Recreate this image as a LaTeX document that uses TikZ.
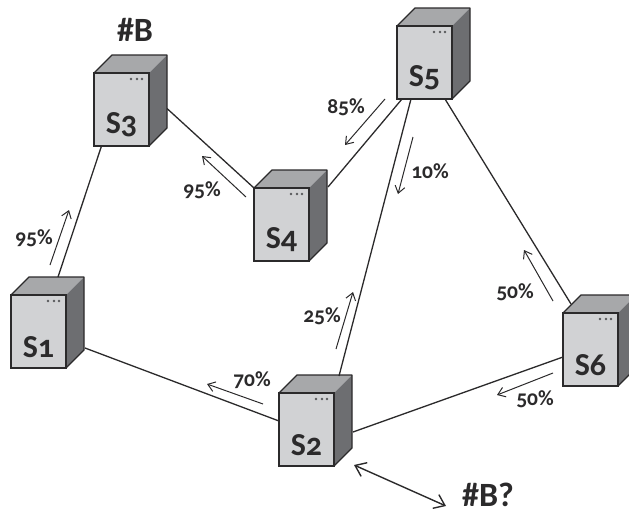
\documentclass[tikz,border=0pt]{standalone}
\usepackage{fontspec}
\setmainfont[Numbers=OldStyle]{Carlito}
\usetikzlibrary{arrows.meta}
\definecolor{servfront}{HTML}{D1D2D4}
\definecolor{servtop}{HTML}{A7A8AA}
\definecolor{servside}{HTML}{6D6E71}
\definecolor{servline}{HTML}{2B2A2B}
\definecolor{servdot}{HTML}{58595B}
\tikzset{
	server/.style={draw=servline, line width=1.2pt, fill=servfront, anchor=north west, inner sep=0pt, outer sep=0pt, minimum width=55pt, minimum height=73pt},
	servername/.style={font=\bfseries\fontsize{32}{32}\selectfont, text=servline, inner sep=0pt},
	source/.style={font=\bfseries\fontsize{34}{34}\selectfont, text=servline, inner sep=0pt},
	percent/.style={font=\bfseries\fontsize{21.5}{21.5}\selectfont, text=servline, inner sep=0pt},
	link/.style={draw=servline, line width=1.3pt},
	flow/.style={draw=servline, line width=1pt, -{Straight Barb[length=7pt,width=10pt]}},
	query/.style={draw=servline, line width=1.4pt, {Straight Barb[length=10pt,width=15pt]}-{Straight Barb[length=10pt,width=15pt]}}
}
\begin{document}
\begin{tikzpicture}[x=1pt,y=-1pt]
	\clip (0,0) rectangle (629,514);
	% servers
	\foreach \name/\x/\y/\txt in {s1/11/295/S1, s2/279/393/S2, s3/94/73/S3, s4/254/188/S4, s5/397/26/S5, s6/563/313/S6} {
		\fill[servtop] (\x,\y) -- ++(18,-18) -- ++(55,0) -- ++(-18,18) -- cycle;
		\fill[servside] (\x+55,\y) -- ++(18,-18) -- ++(0,73) -- ++(-18,18) -- cycle;
		\draw[link, line join=round] (\x,\y) -- ++(18,-18) -- ++(55,0) -- ++(0,73) -- ++(-18,18);
		\node[server] (\name) at (\x,\y) {};
		\node[servername] (\name name) at ([yshift=-15.5pt]\name.center) {\txt};
		\foreach \d in {37,43,48}
			\fill[servdot] (\x+\d,\y+6) circle (1.3pt);
	}
	% links between servers
	\draw[link] ([xshift=19.5pt,yshift=18pt]s1.north) -- ([xshift=-20pt]s3.south);
	\draw[link] ([xshift=18pt,yshift=1pt]s3.east) -- (s4.north west);
	\draw[link] ([xshift=19pt,yshift=37.5pt]s4.east) -- ([xshift=-22.5pt]s5.south);
	\draw[link] ([xshift=-13.5pt]s5.south) -- ([xshift=32.5pt,yshift=17pt]s2.north);
	\draw[link] ([xshift=20.5pt]s5.south) -- ([xshift=-19.5pt,yshift=9pt]s6.north);
	\draw[link] ([xshift=19pt,yshift=-16.5pt]s1.east) -- ([yshift=8.5pt]s2.west);
	\draw[link] ([xshift=19pt,yshift=-2.5pt]s2.east) -- ([yshift=-7.5pt]s6.west);
	% flows and their values
	\foreach \i/\ax/\ay/\bx/\by/\lx/\ly/\val in {
		a/50/265/69/210/34/238/95,
		b/246/197/202/156/202/190/95,
		c/385/99/345/145/346/107/85,
		d/413/137/398/194/430/171/10,
		e/336/349/353/292/322/316/25,
		f/263/404/207/384/252/380/70,
		g/553/301/524/250/515/292/50,
		h/553/373/497/395/535/399/50} {
		\path (\ax,\ay) coordinate (\i from) (\bx,\by) coordinate (\i to);
		\draw[flow] (\i from) -- (\i to);
		\node[percent] (\i val) at (\lx,\ly) {\val\%};
	}
	% request
	\path (354,465) coordinate (ask) (446,506) coordinate (reply);
	\draw[query] (ask) -- (reply);
	\node[source] (sourceb) at (135,30) {\#B};
	\node[source] (wantb) at (488,495) {\#B?};
\end{tikzpicture}
\end{document}
